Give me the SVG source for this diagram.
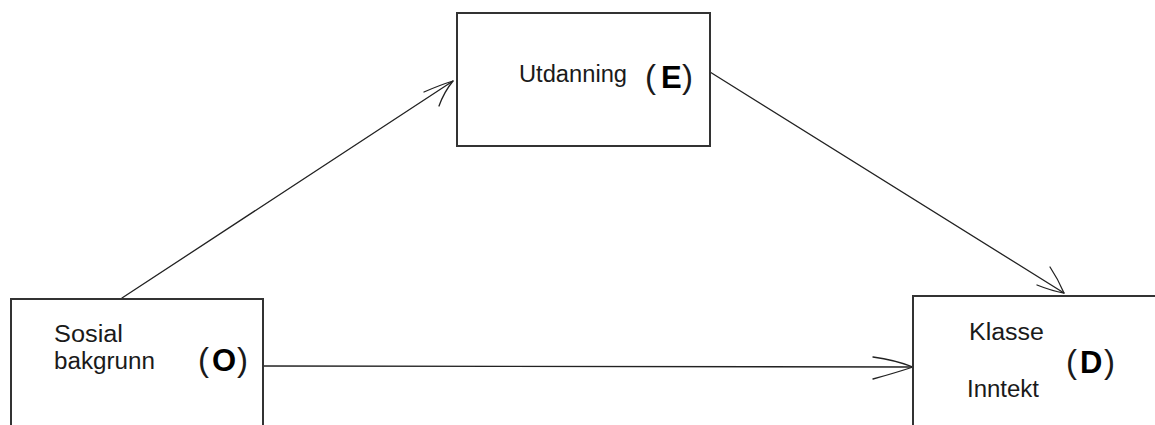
<svg xmlns="http://www.w3.org/2000/svg" width="1155" height="425" viewBox="0 0 1155 425">
<style>
.box{fill:#fff;stroke:#333;stroke-width:2}
.ln{fill:none;stroke:#222;stroke-width:1.3;stroke-linecap:round;stroke-linejoin:round}
.t{font-family:"Liberation Sans",Arial,sans-serif;font-size:23px;fill:#1a1a1a}
.p{font-family:"Liberation Sans",Arial,sans-serif;font-size:33px;fill:#1a1a1a}
.b{font-weight:bold;font-size:31px;fill:#000}
</style>
<rect width="1155" height="425" fill="#fff"/>
<g id="connectors">
<path class="ln" d="M122,298 L453,81"/>
<path class="ln" d="M424,92 Q440,85 453,81 Q444,92 439,106"/>
<path class="ln" d="M710,72 L1064,293"/>
<path class="ln" d="M1037,285 Q1052,291 1064,293 Q1058,279 1050,267"/>
<path class="ln" d="M263,366 L913,367"/>
<path class="ln" d="M873,357 Q895,360 913,367 Q895,373 873,379"/>
</g>
<g id="node-E">
<rect class="box" x="457" y="13" width="253" height="133"/>
<text class="t" x="519" y="82" textLength="108" lengthAdjust="spacingAndGlyphs">Utdanning</text>
<text class="p" y="88"><tspan x="645">(</tspan><tspan class="b" x="661">E</tspan><tspan x="682">)</tspan></text>
</g>
<g id="node-O">
<rect class="box" x="11" y="299" width="252" height="140"/>
<text class="t" x="54" y="342" textLength="69" lengthAdjust="spacingAndGlyphs">Sosial</text>
<text class="t" x="54" y="369" textLength="101" lengthAdjust="spacingAndGlyphs">bakgrunn</text>
<text class="p" y="371"><tspan x="198">(</tspan><tspan class="b" x="212">O</tspan><tspan x="237">)</tspan></text>
</g>
<g id="node-D">
<rect class="box" x="913" y="296" width="260" height="140"/>
<text class="t" x="969" y="340" textLength="75" lengthAdjust="spacingAndGlyphs">Klasse</text>
<text class="t" x="967" y="397" textLength="72" lengthAdjust="spacingAndGlyphs">Inntekt</text>
<text class="p" y="373"><tspan x="1066">(</tspan><tspan class="b" x="1080">D</tspan><tspan x="1104">)</tspan></text>
</g>
</svg>
